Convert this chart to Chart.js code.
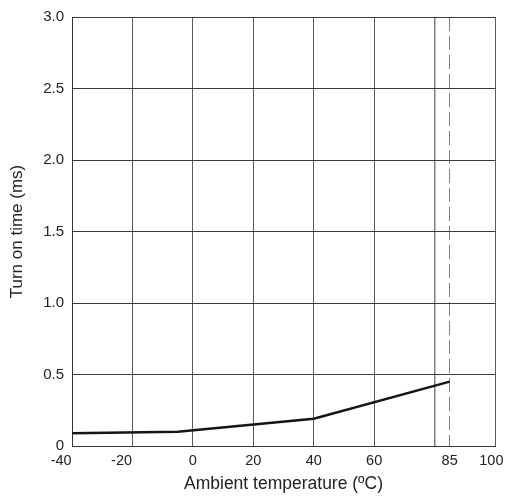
<!DOCTYPE html>
<html>
<head>
<meta charset="utf-8">
<script src="https://cdn.jsdelivr.net/npm/chart.js@4/dist/chart.umd.min.js"></script>
<style>
  html, body { margin: 0; padding: 0; background: #fff; }
  #wrap { width: 506px; height: 498px; }
</style>
</head>
<body>
<div id="wrap"><canvas id="chart"></canvas></div>
<script>
// temperature (ºC) vs turn on time (ms)
const temps = [-40, -5, 40, 85];
const turnOnMs = [0.09, 0.10, 0.19, 0.45];

// x grid positions, 80 has no label, 85 is the dashed limit line
const xTicks = [-40, -20, 0, 20, 40, 60, 80, 85, 100];
const xHidden = [80];
const xDashed = [85];
const yTicks = [0, 0.5, 1.0, 1.5, 2.0, 2.5, 3.0];

const FONT = "'Liberation Sans', Arial, sans-serif";
const TEXT = "#222";

// negative labels sit to the left of their line in the original
function xLabel(v) {
  if (xHidden.includes(v)) return "";
  if (v < 0) return v + "\u2002\u2002\u2002";
  if (v === 100) return v + "\u2002";
  return String(v);
}

new Chart(document.getElementById("chart"), {
  type: "scatter",
  data: {
    datasets: [{
      data: temps.map((t, i) => ({ x: t, y: turnOnMs[i] })),
      showLine: true,
      borderColor: "#151515",
      borderWidth: 2.5,
      pointRadius: 0,
      tension: 0
    }]
  },
  options: {
    responsive: true,
    maintainAspectRatio: false,
    animation: false,
    layout: { padding: { top: 15, right: 11, left: 4, bottom: 2 } },
    plugins: { legend: { display: false }, tooltip: { enabled: false } },
    scales: {
      x: {
        type: "linear",
        min: -40,
        max: 100,
        afterBuildTicks: s => { s.ticks = xTicks.map(v => ({ value: v })); },
        afterFit: s => { s.paddingLeft = 0; s.paddingRight = 0; s.height = 50; },
        ticks: {
          autoSkip: false,
          maxRotation: 0,
          padding: 6,
          color: TEXT,
          font: { family: FONT, size: 14.5 },
          callback: xLabel
        },
        grid: {
          drawTicks: false,
          color: ctx => (xHidden.includes(ctx.tick?.value) || xDashed.includes(ctx.tick?.value)) ? "#808080" : "#5a5a5a",
          lineWidth: ctx => xHidden.includes(ctx.tick?.value) ? 1.5 : 1
        },
        border: {
          color: "#333",
          dash: ctx => xDashed.includes(ctx.tick?.value) ? [14, 5] : []
        },
        title: {
          display: true,
          text: "Ambient temperature (ºC)",
          color: TEXT,
          font: { family: FONT, size: 17.5 },
          padding: { top: 4, bottom: 1 }
        }
      },
      y: {
        min: 0,
        max: 3,
        afterBuildTicks: s => { s.ticks = yTicks.map(v => ({ value: v })); },
        afterFit: s => { s.width = 68; },
        ticks: {
          padding: 8,
          color: TEXT,
          font: { family: FONT, size: 15 },
          callback: v => v === 0 ? "0" : v.toFixed(1)
        },
        grid: { drawTicks: false, color: "#3a3a3a" },
        border: { color: "#333" },
        title: {
          display: true,
          text: "Turn on time (ms)",
          color: TEXT,
          font: { family: FONT, size: 17 },
          padding: { top: 3, bottom: 6 }
        }
      }
    }
  }
});
</script>
</body>
</html>
